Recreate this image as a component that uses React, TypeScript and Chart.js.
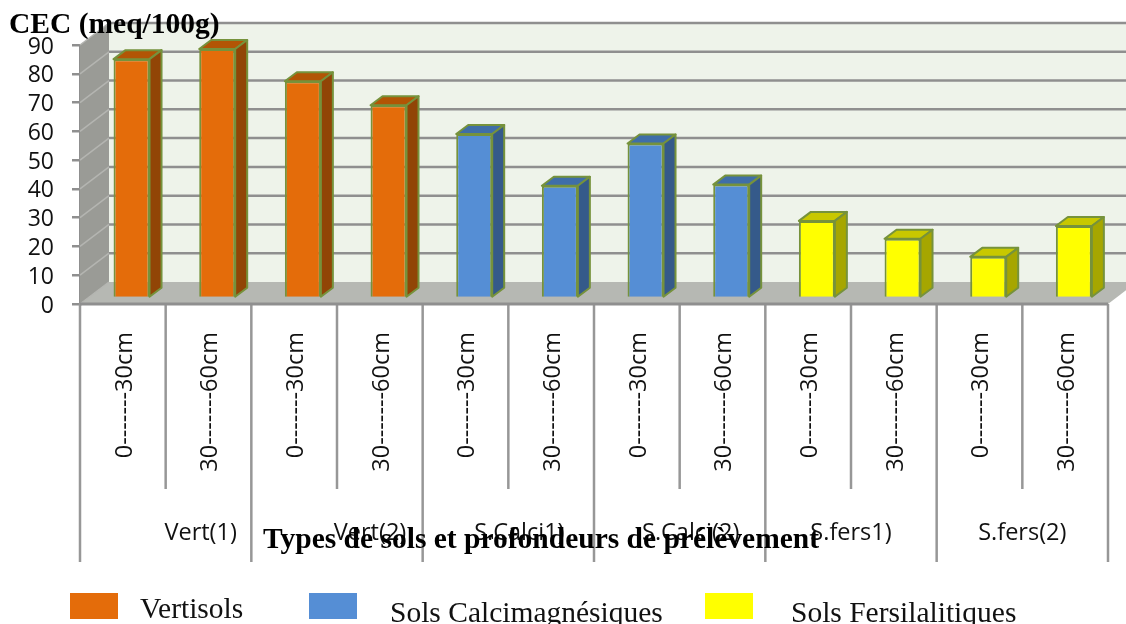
import React, { useEffect, useRef } from "react";
import { Chart, registerables } from "chart.js";

Chart.register(...registerables);

const categories = [
  "0-------30cm", "30-------60cm", "0-------30cm", "30-------60cm",
  "0-------30cm", "30-------60cm", "0-------30cm", "30-------60cm",
  "0-------30cm", "30-------60cm", "0-------30cm", "30-------60cm",
];
const vertisols = [83, 86.5, 75.3, 67, null, null, null, null, null, null, null, null];
const calcimagnesiques = [null, null, null, null, 57, 39, 53.7, 39.4, null, null, null, null];
const fersilalitiques = [null, null, null, null, null, null, null, null, 26.8, 20.6, 14.3, 25];
const groups = ["Vert(1)", "Vert(2)", "S.Calci1)", "S.Calci(2)", "S.fers1)", "S.fers(2)"];
const groupShift = [35, 33, 11, 11, 0, 0];

const yTitle = "CEC (meq/100g)";
const xTitle = "Types de sols et profondeurs de prélèvement";
const legendNames = ["Vertisols", "Sols Calcimagnésiques", "Sols Fersilalitiques"];

const FRONT = ["#e46c0a", "#558ed5", "#ffff00"];
const TOP = ["#b25505", "#3f6ea8", "#c8c800"];
const SIDE = ["#914506", "#355a8a", "#a6a600"];
const EDGE = "#76923c";
const GRID = "#8f8f8f";
const SANS = '"Open Sans", sans-serif';
const SERIF = '"Liberation Serif", serif';

const DEPTH_X = 29;
const DEPTH_Y = 22;
const BAR_X = 8.7;
const BAR_Y = -6;
const BAR_DX = 12;
const BAR_DY = 9;

const box3d = {
  id: "box3d",
  beforeDatasetsDraw(chart: any) {
    const { ctx, scales } = chart;
    const x = scales.x;
    const y = scales.y;
    const l = x.left;
    const r = x.right;
    const b = y.bottom;
    const t = y.top;
    ctx.save();
    // back wall
    ctx.fillStyle = "#eef3ea";
    ctx.fillRect(l + DEPTH_X, t - DEPTH_Y, r - l, b - t);
    // side wall
    ctx.fillStyle = "#9a9b96";
    ctx.beginPath();
    ctx.moveTo(l, b);
    ctx.lineTo(l + DEPTH_X, b - DEPTH_Y);
    ctx.lineTo(l + DEPTH_X, t - DEPTH_Y);
    ctx.lineTo(l, t);
    ctx.closePath();
    ctx.fill();
    // floor
    ctx.fillStyle = "#b6b8b3";
    ctx.beginPath();
    ctx.moveTo(l, b);
    ctx.lineTo(l + DEPTH_X, b - DEPTH_Y);
    ctx.lineTo(r + DEPTH_X, b - DEPTH_Y);
    ctx.lineTo(r, b);
    ctx.closePath();
    ctx.fill();
    // grid lines on the walls
    y.ticks.forEach((tk: any) => {
      const py = y.getPixelForValue(tk.value);
      if (tk.value > 0) {
        ctx.strokeStyle = GRID;
        ctx.lineWidth = 2.5;
        ctx.beginPath();
        ctx.moveTo(l + DEPTH_X, py - DEPTH_Y);
        ctx.lineTo(r + DEPTH_X, py - DEPTH_Y);
        ctx.stroke();
      }
      ctx.strokeStyle = "#b4b5b1";
      ctx.lineWidth = 1.5;
      ctx.beginPath();
      ctx.moveTo(l, py);
      ctx.lineTo(l + DEPTH_X, py - DEPTH_Y);
      ctx.stroke();
    });
    ctx.restore();

    // the bars are pushed back onto the floor
    ctx.save();
    ctx.translate(BAR_X, BAR_Y);
    chart.data.datasets.forEach((ds: any, di: number) => {
      chart.getDatasetMeta(di).data.forEach((el: any, i: number) => {
        if (ds.data[i] == null) return;
        const p = el.getProps(["x", "y", "base", "width"], true);
        const x0 = p.x - p.width / 2;
        const x1 = p.x + p.width / 2;
        ctx.strokeStyle = EDGE;
        ctx.lineWidth = 2;
        ctx.lineJoin = "round";
        ctx.fillStyle = TOP[di];
        ctx.beginPath();
        ctx.moveTo(x0, p.y);
        ctx.lineTo(x0 + BAR_DX, p.y - BAR_DY);
        ctx.lineTo(x1 + BAR_DX, p.y - BAR_DY);
        ctx.lineTo(x1, p.y);
        ctx.closePath();
        ctx.fill();
        ctx.stroke();
        ctx.fillStyle = SIDE[di];
        ctx.beginPath();
        ctx.moveTo(x1, p.y);
        ctx.lineTo(x1 + BAR_DX, p.y - BAR_DY);
        ctx.lineTo(x1 + BAR_DX, p.base - BAR_DY);
        ctx.lineTo(x1, p.base);
        ctx.closePath();
        ctx.fill();
        ctx.stroke();
      });
    });
  },
  afterDatasetsDraw(chart: any) {
    chart.ctx.restore();
  },
  afterDraw(chart: any) {
    const { ctx, scales } = chart;
    const x = scales.x;
    const y = scales.y;
    const half = (x.getPixelForValue(1) - x.getPixelForValue(0)) / 2;
    ctx.save();
    // category separators under the axis
    ctx.strokeStyle = "#979797";
    ctx.lineWidth = 2.5;
    for (let i = 0; i <= categories.length; i++) {
      const px = x.getPixelForValue(0) - half + i * half * 2;
      ctx.beginPath();
      ctx.moveTo(px, y.bottom);
      ctx.lineTo(px, i % 2 === 0 ? 562 : 489);
      ctx.stroke();
    }
    // floor front edge
    ctx.strokeStyle = GRID;
    ctx.lineWidth = 3;
    ctx.beginPath();
    ctx.moveTo(x.left, y.bottom);
    ctx.lineTo(x.right, y.bottom);
    ctx.stroke();
    // group labels
    ctx.fillStyle = "#111111";
    ctx.textAlign = "center";
    ctx.textBaseline = "alphabetic";
    ctx.font = `23.5px ${SANS}`;
    groups.forEach((g, i) => {
      const px = (x.getPixelForValue(i * 2) + x.getPixelForValue(i * 2 + 1)) / 2;
      ctx.fillText(g, px + groupShift[i], 540);
    });
    // titles
    ctx.fillStyle = "#000000";
    ctx.textAlign = "left";
    ctx.font = `bold 29.5px ${SERIF}`;
    ctx.fillText(yTitle, 9, 33);
    ctx.fillText(xTitle, 263, 548);
    // legend
    const swatchX = [70, 309, 705];
    const textX = [140, 390, 791];
    const textY = [618, 622, 622];
    ctx.font = `29.5px ${SERIF}`;
    legendNames.forEach((name, i) => {
      ctx.fillStyle = FRONT[i];
      ctx.fillRect(swatchX[i], 593, 48, 26);
      ctx.fillStyle = "#111111";
      ctx.fillText(name, textX[i], textY[i]);
    });
    ctx.restore();
  },
};

export default function App() {
  const ref = useRef<HTMLCanvasElement>(null);
  useEffect(() => {
    document.body.style.margin = "0";
    const mk = (label: string, data: (number | null)[], i: number) => ({
      label,
      data,
      backgroundColor: FRONT[i],
      borderColor: EDGE,
      borderWidth: 2,
      barPercentage: 0.42,
      categoryPercentage: 1,
    });
    const chart = new Chart(ref.current!, {
      type: "bar",
      data: {
        labels: categories,
        datasets: [
          mk(legendNames[0], vertisols, 0),
          mk(legendNames[1], calcimagnesiques, 1),
          mk(legendNames[2], fersilalitiques, 2),
        ],
      },
      plugins: [box3d],
      options: {
        responsive: false,
        animation: false,
        layout: { padding: { top: 45, right: 18, left: 0, bottom: 0 } },
        plugins: { legend: { display: false }, tooltip: { enabled: false }, title: { display: false } },
        scales: {
          x: {
            stacked: true,
            grid: { display: false, drawTicks: false },
            border: { display: false },
            ticks: {
              autoSkip: false,
              minRotation: 90,
              maxRotation: 90,
              align: "end",
              crossAlign: "center",
              padding: 28,
              labelOffset: 2,
              color: "#111111",
              font: { family: SANS, size: 23.5 },
            },
            afterFit(s: any) {
              s.height = 320;
            },
          },
          y: {
            stacked: true,
            min: 0,
            max: 90,
            grid: { drawOnChartArea: false, color: GRID, lineWidth: 2.5, tickLength: 8 },
            border: { color: GRID, width: 2.5 },
            ticks: {
              stepSize: 10,
              autoSkip: false,
              padding: 18,
              labelOffset: 2,
              color: "#111111",
              font: { family: SANS, size: 23 },
            },
            afterFit(s: any) {
              s.width = 80;
            },
          },
        },
      },
    } as any);
    return () => chart.destroy();
  }, []);
  return <canvas ref={ref} width={1126} height={624} style={{ display: "block" }} />;
}
